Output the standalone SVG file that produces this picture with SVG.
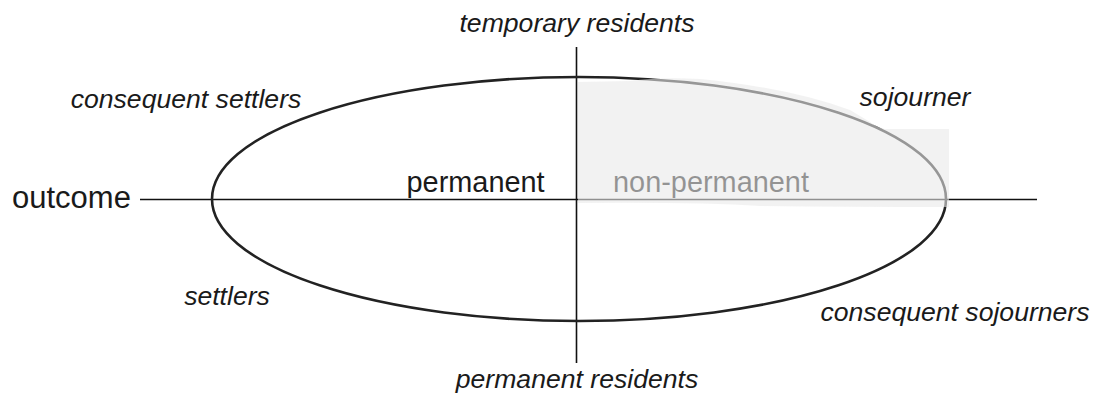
<svg xmlns="http://www.w3.org/2000/svg" width="1094" height="406" viewBox="0 0 1094 406">
<style>
.it{font-family:"Liberation Sans",Arial,sans-serif;font-style:italic;font-size:26.6px;fill:#1a1a1a;text-anchor:middle}
.rg{font-family:"Liberation Sans",Arial,sans-serif;font-size:28.9px;fill:#1a1a1a}
.axis{stroke:#111;stroke-width:1.6;fill:none}
.ell{stroke:#222;stroke-width:2.6;fill:none}
</style>
<rect width="1094" height="406" fill="#fff"/>
<g id="connectors">
<line class="axis" x1="140" y1="199.5" x2="1037" y2="199.5"/>
<line class="axis" x1="576.5" y1="47" x2="576.5" y2="363"/>
</g>
<g id="ellipse">
<ellipse class="ell" cx="579" cy="199" rx="367" ry="122"/>
</g>
<g id="outcome"><text class="rg" x="12" y="208" style="font-size:31px">outcome</text></g>
<g id="permanent"><text class="rg" x="406.5" y="191.5">permanent</text></g>
<g id="non-permanent"><text class="rg" x="613" y="191.5">non-permanent</text></g>
<g id="temporary-residents"><text class="it" x="577" y="31.5">temporary residents</text></g>
<g id="permanent-residents"><text class="it" x="577" y="387.5">permanent residents</text></g>
<g id="consequent-settlers"><text class="it" x="186" y="108">consequent settlers</text></g>
<g id="sojourner"><text class="it" x="915" y="106">sojourner</text></g>
<g id="settlers"><text class="it" x="227" y="305">settlers</text></g>
<g id="consequent-sojourners"><text class="it" x="955" y="321">consequent sojourners</text></g>
<g id="shade">
<path d="M578,82 L630,81 Q660,77 700,79 Q790,88 850,110 L870,122 Q878,128 885,129 L949,129 L949,207 Q850,207 760,206 Q700,202 578,203 Z" fill="#e9e9e9" fill-opacity="0.59"/>
</g>
</svg>
